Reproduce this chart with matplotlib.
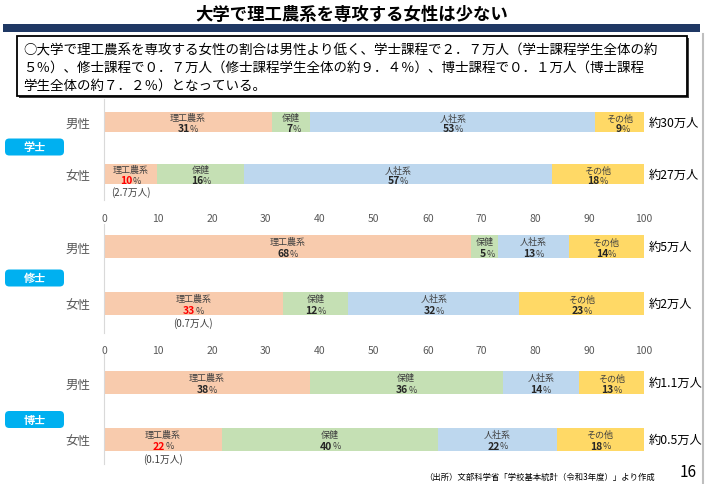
import matplotlib
matplotlib.use("Agg")
import matplotlib.pyplot as plt
from matplotlib.patches import FancyBboxPatch, Rectangle
import numpy as np

plt.rcParams['font.family'] = ['Noto Sans CJK JP', 'DejaVu Sans']

# ---------------- data ----------------
fields = ["理工農系", "保健", "人社系", "その他"]
field_colors = ["#f8cbad", "#c5e0b4", "#bdd7ee", "#ffd966"]
levels = ["学士", "修士", "博士"]
sexes = ["男性", "女性"]

# bar widths (share, %)
share_bachelor_m = [31.1, 7.1, 52.9, 8.9]
share_bachelor_f = [9.9, 16.1, 57.0, 17.0]
share_master_m = [68.0, 5.0, 13.1, 13.9]
share_master_f = [33.1, 12.2, 31.7, 23.0]
share_doctor_m = [38.1, 35.8, 14.1, 12.0]
share_doctor_f = [21.9, 40.0, 22.0, 16.1]

# printed percentage labels
label_bachelor_m = [31, 7, 53, 9]
label_bachelor_f = [10, 16, 57, 18]
label_master_m = [68, 5, 13, 14]
label_master_f = [33, 12, 32, 23]
label_doctor_m = [38, 36, 14, 13]
label_doctor_f = [22, 40, 22, 18]

totals_m = ["約30万人", "約5万人", "約1.1万人"]
totals_f = ["約27万人", "約2万人", "約0.5万人"]
female_stem_counts = ["(2.7万人)", "(0.7万人)", "(0.1万人)"]

ticks = [0, 10, 20, 30, 40, 50, 60, 70, 80, 90, 100]

shares = [(share_bachelor_m, share_bachelor_f),
          (share_master_m, share_master_f),
          (share_doctor_m, share_doctor_f)]
labels = [(label_bachelor_m, label_bachelor_f),
          (label_master_m, label_master_f),
          (label_doctor_m, label_doctor_f)]

title = "大学で理工農系を専攻する女性は少ない"
summary = ("○大学で理工農系を専攻する女性の割合は男性より低く、学士課程で２．７万人（学士課程学生全体の約\n"
           "５％）、修士課程で０．７万人（修士課程学生全体の約９．４％）、博士課程で０．１万人（博士課程\n"
           "学生全体の約７．２％）となっている。")
source = "（出所）文部科学省「学校基本統計（令和3年度）」より作成"
page_no = "16"

# ---------------- layout (pixels) ----------------
W, H = 706, 485
fig = plt.figure(figsize=(W / 100, H / 100), dpi=100)

def fx(px):
    return px / W

def fy(py):
    return 1 - py / H

# panel geometry: axes top, axes bottom, male centre, female centre, bar height
panels = [
    (100, 201, 123, 175, 20),
    (225, 334, 247.5, 304.5, 23),
    (355, 465, 383.5, 440, 23),
]
x0_px, x100_px = 104, 643.5

# title
fig.text(fx(352), fy(15), title, ha="center", va="center", fontsize=12.5,
         fontweight="bold", color="black")
# navy band
fig.patches.append(Rectangle((fx(3), fy(33)), fx(697), 8 / H, transform=fig.transFigure,
                             facecolor="#1f3864", edgecolor="none"))
# right gray rule
fig.add_artist(plt.Line2D([fx(703), fx(703)], [fy(35), 0], transform=fig.transFigure,
                          color="#bfbfbf", lw=1.5))
# summary box (shadow + box)
fig.patches.append(Rectangle((fx(19), fy(99)), fx(670), 60 / H, transform=fig.transFigure,
                             facecolor="#404040", edgecolor="none"))
fig.patches.append(Rectangle((fx(17), fy(97)), fx(670), 60 / H, transform=fig.transFigure,
                             facecolor="white", edgecolor="black", lw=1.3))
fig.text(fx(23), fy(68), summary, ha="left", va="center", fontsize=9.75,
         linespacing=1.3, color="black")

for i, (top, bot, ym, yf, bh) in enumerate(panels):
    ax = fig.add_axes([fx(x0_px), fy(bot), fx(x100_px - x0_px), (bot - top) / H])
    unit = yf - ym
    ax.set_ylim(1 + (bot - yf) / unit, 0 - (ym - top) / unit)
    ax.set_xlim(0, 100)
    hgt = bh / unit
    for row, (sh, lb) in enumerate(zip(shares[i], labels[i])):
        left = 0.0
        for k, (w, v) in enumerate(zip(sh, lb)):
            ax.barh(row, w, left=left, height=hgt, color=field_colors[k], edgecolor="none")
            cx = left + w / 2
            ax.text(cx, row - hgt * 0.2, fields[k], ha="center", va="center",
                    fontsize=6.5, color="#404040")
            red = (row == 1 and k == 0)
            ax.annotate(str(v), (cx, row + hgt * 0.3), xytext=(1.5, 0), textcoords="offset points",
                        ha="right", va="center", fontsize=7.5, fontweight="bold",
                        color="#ff0000" if red else "#262626")
            ax.annotate("%", (cx, row + hgt * 0.3), xytext=(1.5, 0), textcoords="offset points",
                        ha="left", va="center", fontsize=6.5, color="#404040")
            left += w
        # total label on the right
        tot = totals_m[i] if row == 0 else totals_f[i]
        ax.annotate(tot, (100, row), xytext=(4, 0), textcoords="offset points",
                    ha="left", va="center", fontsize=8.8, color="black",
                    annotation_clip=False)
    # female stem count below bar
    ax.annotate(female_stem_counts[i], (shares[i][1][0] / 2, 1 + hgt / 2),
                xytext=(0, -5.5), textcoords="offset points", ha="center", va="center",
                fontsize=7, color="#404040", annotation_clip=False)
    ax.set_yticks([0, 1])
    ax.set_yticklabels(sexes, fontsize=9, color="#595959")
    ax.tick_params(axis="y", length=0, pad=10)
    for s in ["top", "right", "bottom"]:
        ax.spines[s].set_visible(False)
    ax.spines["left"].set_color("#d9d9d9")
    ax.set_xticks(ticks)
    if i < 2:
        ax.set_xticklabels([str(t) for t in ticks], fontsize=7.5, color="#595959")
        ax.tick_params(axis="x", length=0, pad=9)
    else:
        ax.tick_params(axis="x", length=0, labelbottom=False)
    ax.set_facecolor("none")

    # level badge
    cy = [148, 279, 420.5][i]
    fig.patches.append(FancyBboxPatch((fx(5), fy(cy + 8.5)), fx(59), 17 / H,
                                      boxstyle="round,pad=0,rounding_size=0.006",
                                      transform=fig.transFigure, facecolor="#00b0f0",
                                      edgecolor="none", mutation_aspect=W / H))
    fig.text(fx(34.5), fy(cy), levels[i], ha="center", va="center", fontsize=8,
             fontweight="bold", color="white")

fig.text(fx(655), fy(477), source, ha="right", va="center", fontsize=6, color="black")
fig.text(fx(688), fy(473), page_no, ha="center", va="center", fontsize=11, color="black")

fig.savefig("out.png", dpi=100)
